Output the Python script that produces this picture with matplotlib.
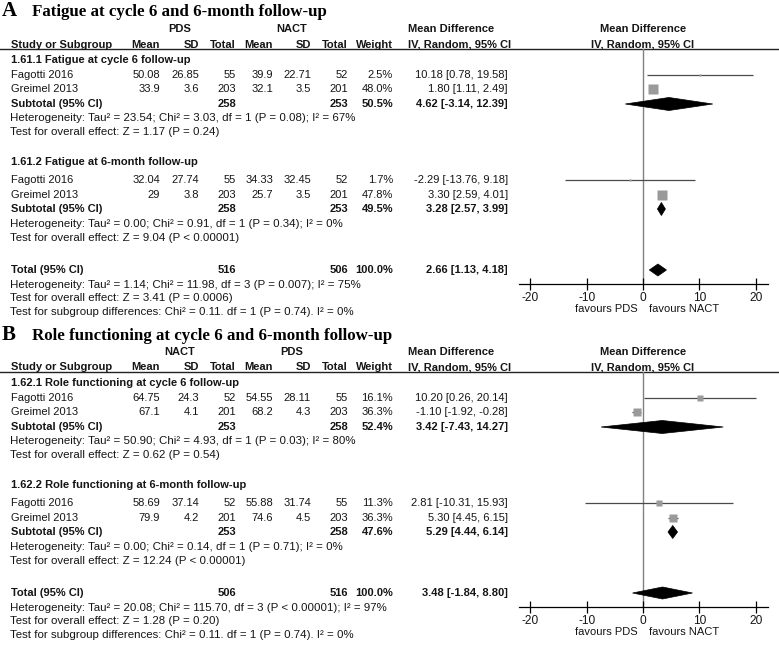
import numpy as np
import matplotlib
matplotlib.use("Agg")
import matplotlib.pyplot as plt
from matplotlib.patches import Polygon

plt.rcParams["font.family"] = ["Liberation Sans", "DejaVu Sans"]
plt.rcParams["axes.unicode_minus"] = False

# ---------------- data ----------------
studies = ["Fagotti 2016", "Greimel 2013"]

# panel A: fatigue (group 1 = PDS, group 2 = NACT)
A_groups = ["PDS", "NACT"]
A_subs = ["1.61.1 Fatigue at cycle 6 follow-up", "1.61.2 Fatigue at 6-month follow-up"]
A_mean1 = [[50.08, 33.9], [32.04, 29]]
A_sd1 = [[26.85, 3.6], [27.74, 3.8]]
A_n1 = [[55, 203], [55, 203]]
A_mean2 = [[39.9, 32.1], [34.33, 25.7]]
A_sd2 = [[22.71, 3.5], [32.45, 3.5]]
A_n2 = [[52, 201], [52, 201]]
A_w = [[2.5, 48.0], [1.7, 47.8]]
A_md = [[10.18, 1.80], [-2.29, 3.30]]
A_lo = [[0.78, 1.11], [-13.76, 2.59]]
A_hi = [[19.58, 2.49], [9.18, 4.01]]
A_sub_n1 = [258, 258]
A_sub_n2 = [253, 253]
A_sub_w = [50.5, 49.5]
A_sub_md = [4.62, 3.28]
A_sub_lo = [-3.14, 2.57]
A_sub_hi = [12.39, 3.99]
A_het = ["Heterogeneity: Tau\u00b2 = 23.54; Chi\u00b2 = 3.03, df = 1 (P = 0.08); I\u00b2 = 67%",
         "Heterogeneity: Tau\u00b2 = 0.00; Chi\u00b2 = 0.91, df = 1 (P = 0.34); I\u00b2 = 0%"]
A_z = ["Test for overall effect: Z = 1.17 (P = 0.24)",
       "Test for overall effect: Z = 9.04 (P < 0.00001)"]
A_tot = [516, 506, 100.0, 2.66, 1.13, 4.18]
A_tot_txt = ["Heterogeneity: Tau\u00b2 = 1.14; Chi\u00b2 = 11.98, df = 3 (P = 0.007); I\u00b2 = 75%",
             "Test for overall effect: Z = 3.41 (P = 0.0006)",
             "Test for subgroup differences: Chi\u00b2 = 0.11. df = 1 (P = 0.74). I\u00b2 = 0%"]

# panel B: role functioning (group 1 = NACT, group 2 = PDS)
B_groups = ["NACT", "PDS"]
B_subs = ["1.62.1 Role functioning at cycle 6 follow-up", "1.62.2 Role functioning at 6-month follow-up"]
B_mean1 = [[64.75, 67.1], [58.69, 79.9]]
B_sd1 = [[24.3, 4.1], [37.14, 4.2]]
B_n1 = [[52, 201], [52, 201]]
B_mean2 = [[54.55, 68.2], [55.88, 74.6]]
B_sd2 = [[28.11, 4.3], [31.74, 4.5]]
B_n2 = [[55, 203], [55, 203]]
B_w = [[16.1, 36.3], [11.3, 36.3]]
B_md = [[10.20, -1.10], [2.81, 5.30]]
B_lo = [[0.26, -1.92], [-10.31, 4.45]]
B_hi = [[20.14, -0.28], [15.93, 6.15]]
B_sub_n1 = [253, 253]
B_sub_n2 = [258, 258]
B_sub_w = [52.4, 47.6]
B_sub_md = [3.42, 5.29]
B_sub_lo = [-7.43, 4.44]
B_sub_hi = [14.27, 6.14]
B_het = ["Heterogeneity: Tau\u00b2 = 50.90; Chi\u00b2 = 4.93, df = 1 (P = 0.03); I\u00b2 = 80%",
         "Heterogeneity: Tau\u00b2 = 0.00; Chi\u00b2 = 0.14, df = 1 (P = 0.71); I\u00b2 = 0%"]
B_z = ["Test for overall effect: Z = 0.62 (P = 0.54)",
       "Test for overall effect: Z = 12.24 (P < 0.00001)"]
B_tot = [506, 516, 100.0, 3.48, -1.84, 8.80]
B_tot_txt = ["Heterogeneity: Tau\u00b2 = 20.08; Chi\u00b2 = 115.70, df = 3 (P < 0.00001); I\u00b2 = 97%",
             "Test for overall effect: Z = 1.28 (P = 0.20)",
             "Test for subgroup differences: Chi\u00b2 = 0.11. df = 1 (P = 0.74). I\u00b2 = 0%"]

ticks = [-20, -10, 0, 10, 20]
fav = ["favours PDS", "favours NACT"]

# ---------------- layout (pixels) ----------------
W, H = 779, 650
FS = 8.0       # table text
FS_NOTE = 8.25  # heterogeneity / test lines
TXT = "#151515"
cols = [160, 199, 236, 273, 311, 348, 393]   # right edges of numeric columns
X_LAB, X_MD, X_MDH, X0 = 11, 508, 408, 643
ROW_STUDY = [[75, 89], [180, 195]]
ROW_SUBHDR = [60, 162]
ROW_SUBTOT = [104, 209]
ROW_HET = [118, 224]
ROW_Z = [132, 238]
ROW_TOT = 270
ROW_TOT_TXT = [285, 298, 312]
Y_LINE, Y_AXIS = 49, 284

fig = plt.figure(figsize=(W / 100, H / 100), dpi=100)
bg = fig.add_axes([0, 0, 1, 1])
bg.set_xlim(0, W)
bg.set_ylim(H, 0)
bg.axis("off")


def t(x, y, s, ha="left", bold=False, **kw):
    bg.text(x, y, s, ha=ha, va=kw.pop("va", "center"), fontsize=kw.pop("fs", FS),
            fontweight="bold" if bold else "normal", color=TXT, **kw)


def diamond(ax, md, lo, hi, y, h=6.5):
    ax.add_patch(Polygon([[lo, y], [md, y - h], [hi, y], [md, y + h]],
                         closed=True, fc="black", ec="black", lw=0.5))


def panel(off, letter, title, groups, subs, m1, s1, n1, m2, s2, n2, w, md, lo, hi,
          sn1, sn2, sw, smd, slo, shi, het, z, tot, tot_txt):
    bg.text(2, off + 16.5, letter, fontsize=15, fontweight="bold", family="Liberation Serif",
            va="baseline", color="black")
    bg.text(32, off + 16.5, title, fontsize=12.2, fontweight="bold", family="Liberation Serif",
            va="baseline", color="black")
    t(180, off + 29, groups[0], ha="center", bold=True)
    t(292, off + 29, groups[1], ha="center", bold=True)
    t(X_MDH, off + 29, "Mean Difference", bold=True)
    t(X0, off + 29, "Mean Difference", ha="center", bold=True)
    yh = off + 47.5
    t(X_LAB, yh, "Study or Subgroup", bold=True, va="baseline")
    for x, s in zip(cols, ["Mean", "SD", "Total", "Mean", "SD", "Total", "Weight"]):
        t(x, yh, s, ha="right", bold=True, va="baseline")
    t(X_MDH, yh, "IV, Random, 95% CI", bold=True, va="baseline")
    t(X0, yh, "IV, Random, 95% CI", ha="center", bold=True, va="baseline")
    bg.plot([0, W], [off + Y_LINE, off + Y_LINE], color="#222222", lw=1.0)

    ax = fig.add_axes([519 / W, 1 - (off + Y_AXIS) / H, (768 - 519) / W, (Y_AXIS - Y_LINE) / H])
    ax.set_xlim(-22.0, 22.2)
    ax.set_ylim(off + Y_AXIS, off + Y_LINE)
    ax.patch.set_alpha(0)
    for sp in ["top", "left", "right"]:
        ax.spines[sp].set_visible(False)
    ax.spines["bottom"].set_linewidth(0.9)
    ax.set_yticks([])
    ax.set_xticks(ticks)
    ax.set_xticklabels([str(v) for v in ticks], fontsize=8.6, color=TXT)
    ax.tick_params(axis="x", direction="inout", length=8, width=0.9, pad=1.5)
    ax.axvline(0, color="#808080", lw=1.0, zorder=1)

    for g in range(2):
        t(X_LAB, off + ROW_SUBHDR[g], subs[g], bold=True)
        for i in range(2):
            y = off + ROW_STUDY[g][i]
            t(X_LAB, y, studies[i])
            vals = [f"{m1[g][i]:g}", f"{s1[g][i]:g}", str(n1[g][i]),
                    f"{m2[g][i]:g}", f"{s2[g][i]:g}", str(n2[g][i]), f"{w[g][i]:.1f}%"]
            for x, s in zip(cols, vals):
                t(x, y, s, ha="right")
            t(X_MD, y, f"{md[g][i]:.2f} [{lo[g][i]:.2f}, {hi[g][i]:.2f}]", ha="right")
            ax.hlines(y, lo[g][i], hi[g][i], color="#4a4a4a", lw=0.9, zorder=2)
            ax.plot(md[g][i], y, marker="s", ms=1.3 * np.sqrt(w[g][i]) * 0.72 + 0.6,
                    color="#9a9a9a", mec="none", zorder=3)
        y = off + ROW_SUBTOT[g]
        t(X_LAB, y, "Subtotal (95% CI)", bold=True)
        t(cols[2], y, str(sn1[g]), ha="right", bold=True)
        t(cols[5], y, str(sn2[g]), ha="right", bold=True)
        t(cols[6], y, f"{sw[g]:.1f}%", ha="right", bold=True)
        t(X_MD, y, f"{smd[g]:.2f} [{slo[g]:.2f}, {shi[g]:.2f}]", ha="right", bold=True)
        diamond(ax, smd[g], slo[g], shi[g], y)
        t(X_LAB - 1, off + ROW_HET[g], het[g], fs=FS_NOTE)
        t(X_LAB - 1, off + ROW_Z[g], z[g], fs=FS_NOTE)

    y = off + ROW_TOT
    t(X_LAB, y, "Total (95% CI)", bold=True)
    t(cols[2], y, str(tot[0]), ha="right", bold=True)
    t(cols[5], y, str(tot[1]), ha="right", bold=True)
    t(cols[6], y, f"{tot[2]:.1f}%", ha="right", bold=True)
    t(X_MD, y, f"{tot[3]:.2f} [{tot[4]:.2f}, {tot[5]:.2f}]", ha="right", bold=True)
    diamond(ax, tot[3], tot[4], tot[5], y, h=6)
    for yy, s in zip(ROW_TOT_TXT, tot_txt):
        t(X_LAB - 1, off + yy, s, fs=FS_NOTE)
    t(X0 - 5, off + 309, fav[0], ha="right", fs=FS)
    t(X0 + 6, off + 309, fav[1], fs=FS)


panel(0, "A", "Fatigue at cycle 6 and 6-month follow-up", A_groups, A_subs,
      A_mean1, A_sd1, A_n1, A_mean2, A_sd2, A_n2, A_w, A_md, A_lo, A_hi,
      A_sub_n1, A_sub_n2, A_sub_w, A_sub_md, A_sub_lo, A_sub_hi, A_het, A_z, A_tot, A_tot_txt)
panel(323, "B", "Role functioning at cycle 6 and 6-month follow-up", B_groups, B_subs,
      B_mean1, B_sd1, B_n1, B_mean2, B_sd2, B_n2, B_w, B_md, B_lo, B_hi,
      B_sub_n1, B_sub_n2, B_sub_w, B_sub_md, B_sub_lo, B_sub_hi, B_het, B_z, B_tot, B_tot_txt)

fig.savefig("out.png", dpi=100)
